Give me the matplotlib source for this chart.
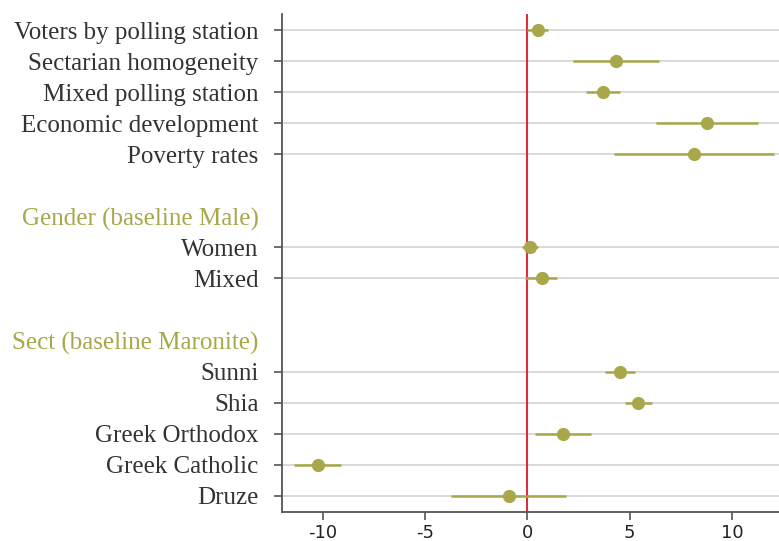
import numpy as np
import matplotlib.pyplot as plt

# Row labels (top to bottom); None marks empty spacer rows
labels = ["Voters by polling station", "Sectarian homogeneity", "Mixed polling station",
          "Economic development", "Poverty rates", None, "Gender (baseline Male)",
          "Women", "Mixed", None, "Sect (baseline Maronite)",
          "Sunni", "Shia", "Greek Orthodox", "Greek Catholic", "Druze"]
headers = ["Gender (baseline Male)", "Sect (baseline Maronite)"]

# Coefficients and confidence intervals for the data rows
names = ["Voters by polling station", "Sectarian homogeneity", "Mixed polling station",
         "Economic development", "Poverty rates", "Women", "Mixed",
         "Sunni", "Shia", "Greek Orthodox", "Greek Catholic", "Druze"]
coef = [0.5, 4.35, 3.68, 8.76, 8.12, 0.11, 0.69, 4.53, 5.43, 1.75, -10.26, -0.92]
ci_low = [0.0, 2.24, 2.84, 6.27, 4.22, -0.26, -0.1, 3.8, 4.79, 0.38, -11.4, -3.73]
ci_high = [1.0, 6.45, 4.53, 11.26, 12.07, 0.5, 1.45, 5.28, 6.1, 3.12, -9.13, 1.9]

xticks = [-10, -5, 0, 5, 10]

olive = "#a8a84a"

fig = plt.figure(figsize=(7.79, 5.41), dpi=100)
ax = fig.add_axes([0.362, 0.054, 0.638, 0.92])

ypos = {lab: i for i, lab in enumerate(labels) if lab is not None}
y = [ypos[n] for n in names]

for yy in y:
    ax.axhline(yy, color="#d3d3d3", lw=1.2, zorder=0)

ax.axvline(0, color="#d9303c", lw=1.5, zorder=1)
ax.hlines(y, ci_low, ci_high, color=olive, lw=1.8, zorder=2)
ax.plot(coef, y, "o", color=olive, ms=8.5, zorder=3)

shown = [i for i, lab in enumerate(labels) if lab is not None]
ax.set_yticks(shown)
ax.set_yticklabels([labels[i] for i in shown], family="Liberation Serif", fontsize=18,
                   color="#333333")
for tick, i in zip(ax.yaxis.get_major_ticks(), shown):
    if labels[i] in headers:
        tick.tick1line.set_visible(False)
        tick.label1.set_color(olive)

ax.set_ylim(len(labels) - 0.48, -0.52)
ax.set_xlim(-12, 12.3)
ax.set_xticks(xticks)
ax.set_xticklabels([str(v) for v in xticks], fontsize=13, color="#222222")

ax.tick_params(axis="y", length=6, width=1.2, color="#555555", pad=11)
ax.tick_params(axis="x", length=5.5, width=1.2, color="#555555", pad=3)

for s in ["top", "right"]:
    ax.spines[s].set_visible(False)
for s in ["left", "bottom"]:
    ax.spines[s].set_color("#555555")
    ax.spines[s].set_linewidth(1.3)

fig.savefig("out.png", dpi=100)
